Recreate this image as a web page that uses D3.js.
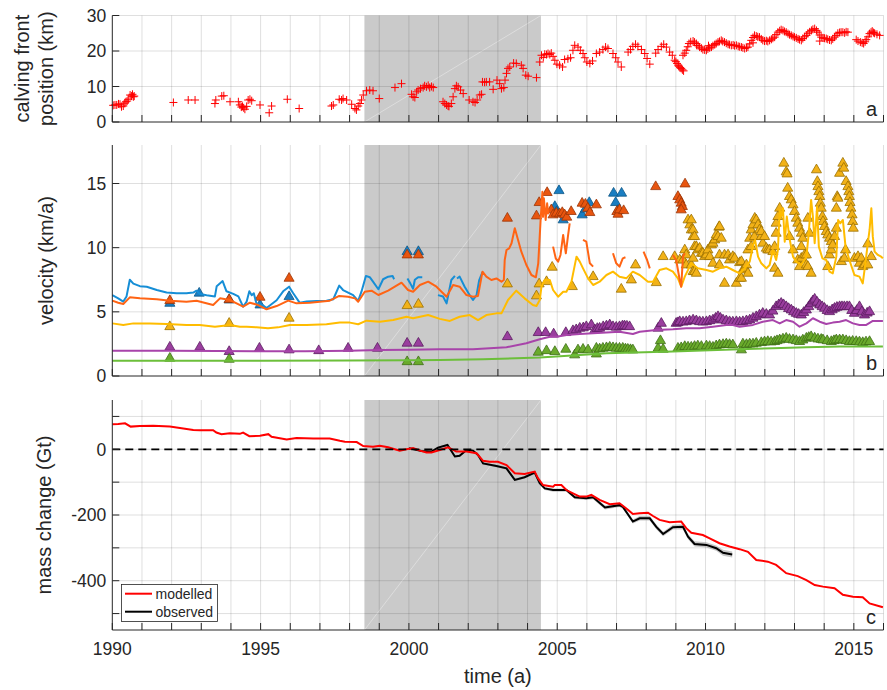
<!DOCTYPE html>
<html><head><meta charset="utf-8">
<script src="https://cdn.jsdelivr.net/npm/d3@7"></script>
<style>body{margin:0;background:#fff}svg{display:block}text{font-family:"Liberation Sans",Arial,Helvetica,sans-serif;fill:#262626}</style>
</head><body>
<svg id="chart" width="887" height="690"></svg>
<script>
// ---------------- DATA ----------------
const xTickYears = d3.range(1990, 2017, 1);
const xTickLabels = [1990, 1995, 2000, 2005, 2010, 2015];
const yTicksA = [0, 10, 20, 30], yLabelsA = [0, 10, 20, 30];
const yTicksB = [0, 5, 10, 15], yLabelsB = [0, 5, 10, 15];
const yTicksC = [-500, -400, -300, -200, -100, 0, 100], yLabelsC = [-400, -200, 0];
const shadedPeriod = [1998.5, 2004.45];

// panel a: calving front position (km)
const frontPos = [
[1990.03,4.7],[1990.09,4.8],[1990.15,4.8],[1990.21,5.1],[1990.26,5.0],[1990.31,4.3],[1990.37,4.5],[1990.42,5.3],[1990.46,5.7],[1990.5,5.9],[1990.54,6.4],[1990.6,7.6],[1990.65,7.3],[1990.68,7.8],[1990.71,7.1],[1990.74,7.3],
[1992.06,5.5],[1992.56,6.2],[1992.79,6.2],
[1993.46,5.2],[1993.49,6.2],[1993.69,7.3],[1993.76,7.4],[1993.97,5.7],
[1994.25,5.7],[1994.3,4.8],[1994.35,4.2],[1994.39,4.4],[1994.43,4.0],[1994.47,3.6],[1994.53,4.4],[1994.58,6.2],[1994.64,6.4],[1994.7,6.0],
[1994.98,4.8],[1995.29,2.6],[1995.37,4.5],[1995.9,6.4],[1996.3,3.8],
[1997.39,4.5],[1997.45,4.8],[1997.65,6.4],[1997.73,6.2],[1997.78,6.6],[1997.9,6.2],[1998.07,5.0],[1998.18,3.8],[1998.23,3.4],[1998.29,4.5],[1998.35,5.2],[1998.4,6.2],[1998.46,7.6],[1998.57,8.8],[1998.68,9.0],[1998.79,8.8],[1999.0,6.6],[1999.53,9.7],[1999.75,10.8],
[2000.09,7.8],[2000.14,7.1],[2000.2,6.9],[2000.26,8.5],[2000.31,9.0],[2000.39,9.4],[2000.48,9.7],[2000.53,10.2],[2000.59,9.9],[2000.65,10.3],[2000.7,9.7],[2000.76,10.0],[2000.82,9.7],
[2001.15,5.7],[2001.21,5.2],[2001.27,4.8],[2001.32,4.5],[2001.35,4.4],[2001.43,5.2],[2001.49,7.1],[2001.55,9.4],[2001.6,10.2],[2001.66,9.9],[2001.74,9.0],[2001.83,8.0],
[2002.03,6.2],[2002.16,5.7],[2002.23,5.5],[2002.3,6.2],[2002.39,7.6],[2002.45,7.8],[2002.48,11.3],[2002.55,11.2],[2002.61,11.3],[2002.72,11.3],[2002.84,9.2],[2002.97,11.8],[2003.06,10.8],[2003.12,9.4],[2003.2,9.7],[2003.24,11.8],[2003.29,13.7],[2003.34,15.1],[2003.4,15.5],[2003.53,16.6],[2003.62,16.5],[2003.79,16.0],[2003.85,15.1],[2003.94,13.2],[2004.02,12.9],[2004.3,12.5],
[2004.41,16.9],[2004.47,18.8],[2004.53,18.2],[2004.58,19.1],[2004.64,19.0],[2004.69,19.3],[2004.75,19.0],[2004.8,19.4],[2004.86,18.5],[2004.92,17.4],[2004.99,16.3],[2005.08,16.0],[2005.18,15.5],[2005.25,17.6],[2005.36,17.8],[2005.45,18.1],
[2005.53,20.2],[2005.59,21.6],[2005.7,21.1],[2005.78,20.2],[2005.87,19.3],[2005.93,18.1],[2006.0,16.9],[2006.1,16.5],[2006.19,17.2],
[2006.32,19.3],[2006.43,19.7],[2006.54,20.4],[2006.63,21.1],[2006.71,20.7],[2006.88,19.3],[2006.97,18.1],[2007.05,16.9],[2007.16,15.5],
[2007.39,19.7],[2007.47,20.4],[2007.55,21.3],[2007.64,21.9],[2007.72,21.3],[2007.84,20.4],[2007.95,19.3],[2008.03,17.9],[2008.12,16.3],
[2008.32,19.4],[2008.4,20.4],[2008.51,21.3],[2008.59,21.9],[2008.68,21.1],[2008.79,19.7],[2008.88,18.8],[2008.96,17.4],[2009.0,17.0],[2009.04,16.5],[2009.08,16.0],[2009.1,15.7],[2009.14,15.3],[2009.18,15.1],[2009.22,14.7],[2009.26,14.4],
[2009.24,18.8],[2009.3,19.4],[2009.35,20.2],[2009.4,21.2],[2009.44,22.1],[2009.5,22.6],[2009.58,22.8],[2009.63,22.5],[2009.69,22.1],[2009.75,21.5],[2009.8,21.1],[2009.86,20.8],[2009.91,20.4],[2009.97,20.3],[2010.03,20.2],[2010.08,20.6],[2010.14,20.9],[2010.2,21.1],[2010.25,21.5],[2010.31,21.8],[2010.36,22.1],[2010.42,22.5],[2010.47,22.7],[2010.53,23.0],[2010.58,22.7],[2010.64,22.5],[2010.7,22.2],[2010.76,21.9],[2010.81,21.8],[2010.87,21.6],[2010.93,21.7],[2010.98,21.5],[2011.04,21.6],[2011.1,21.3],[2011.15,21.2],[2011.21,21.1],[2011.26,20.9],[2011.32,20.7],[2011.38,20.9],[2011.43,21.1],[2011.49,22.0],[2011.54,23.0],[2011.6,23.8],[2011.65,24.4],[2011.71,24.2],[2011.76,24.0],[2011.82,23.9],[2011.88,23.4],[2011.93,23.0],[2011.99,22.8],[2012.05,22.9],[2012.1,22.7],[2012.16,23.0],[2012.22,23.3],[2012.27,23.6],[2012.33,23.9],[2012.38,24.6],[2012.44,25.3],[2012.5,25.7],[2012.55,26.0],[2012.61,25.8],[2012.66,25.5],[2012.72,25.3],[2012.78,24.9],[2012.83,24.6],[2012.89,24.4],[2012.95,24.1],[2013.0,23.9],[2013.06,23.7],[2013.12,23.4],[2013.17,23.2],[2013.23,23.0],[2013.28,23.5],[2013.34,24.0],[2013.4,24.4],[2013.45,25.0],[2013.51,25.4],[2013.57,25.8],[2013.62,26.1],[2013.68,26.3],[2013.74,25.8],[2013.79,25.3],[2013.85,24.5],[2013.9,23.9],[2013.96,23.7],[2014.01,23.6],[2014.07,23.5],[2014.12,23.3],[2014.18,23.1],[2014.24,23.0],[2014.29,23.4],[2014.35,23.9],[2014.4,24.4],[2014.46,25.0],[2014.52,25.2],[2014.57,25.3],[2014.63,25.3],[2014.69,25.1],[2014.74,25.4],[2014.8,25.3],
[2009.7,21.6],[2010.1,21.5],[2011.6,22.3],[2013.85,22.8],
[2015.08,23.2],[2015.14,22.8],[2015.22,22.5],[2015.28,22.3],[2015.33,22.1],[2015.38,22.6],[2015.42,23.2],[2015.48,24.0],[2015.53,24.9],[2015.58,25.3],[2015.62,25.6],[2015.66,25.2],[2015.7,25.0],[2015.78,24.7],[2015.87,24.4]
];

// panel b: modelled velocities (km/a), lines split into segments
const velBlue = [
 [[1990.0,6.3],[1990.2,6.05],[1990.37,5.8],[1990.48,6.2],[1990.59,7.5],[1990.71,7.2],[1990.93,7.0],[1991.16,6.96],[1991.5,6.7],[1991.83,6.5],[1992.17,6.45],[1992.5,6.45],[1992.73,6.5],[1992.84,6.65],[1992.95,6.4],[1993.18,6.3],[1993.46,6.2],[1993.52,7.0],[1993.72,7.4],[1993.85,6.6],[1994.08,6.4],[1994.25,6.2],[1994.41,5.4],[1994.53,5.8],[1994.62,6.6],[1994.7,6.3],[1994.77,6.45],[1994.86,5.65],[1995.09,5.5],[1995.2,5.3],[1995.54,5.9],[1995.76,6.6],[1995.96,6.96],[1996.1,6.45],[1996.32,5.7],[1996.55,5.8],[1996.89,5.85],[1997.22,5.87],[1997.45,5.98],[1997.65,7.04],[1997.78,6.7],[1998.12,6.3],[1998.29,5.85],[1998.4,6.57],[1998.55,7.8],[1998.68,7.7],[1998.79,7.35],[1998.97,6.76],[1999.13,7.54],[1999.3,7.74],[1999.45,7.8],[1999.5,7.54]],
 [[1999.95,7.6],[2000.05,7.2],[2000.14,6.8],[2000.2,7.5],[2000.31,7.7],[2000.45,7.7]],
 [[2000.98,6.3],[2001.15,6.2],[2001.27,5.66],[2001.43,7.48],[2001.55,7.8]],
 [[2001.62,7.6],[2001.71,7.74],[2001.88,6.96],[2002.05,6.3],[2002.16,5.92],[2002.28,6.3],[2002.37,7.48],[2002.48,8.1]]
];
const velOrange = [
 [[1990,5.87],[1990.2,5.71],[1990.37,5.61],[1990.59,6.13],[1990.93,6.05],[1991.5,5.98],[1991.95,5.87],[1992.5,5.79],[1992.84,5.87],[1993.4,5.53],[1993.63,6.05],[1993.97,5.92],[1994.19,5.66],[1994.41,5.4],[1994.64,5.71],[1994.92,5.53],[1995.2,5.2],[1995.54,5.45],[1995.93,5.87],[1996.21,5.66],[1996.66,5.71],[1997.33,5.87],[1997.65,6.24],[1997.95,6.18],[1998.18,6.05],[1998.29,5.79],[1998.51,6.57],[1998.74,6.65],[1998.97,6.31],[1999.3,6.65],[1999.75,7.27],[1999.97,6.7],[2000.14,6.57],[2000.37,7.09],[2000.65,7.35],[2000.93,6.96],[2001.27,6.18],[2001.49,7.09],[2001.71,6.96],[2001.94,6.31],[2002.16,6.18],[2002.33,6.24],[2002.48,8.13],[2002.61,7.74],[2002.78,7.48],[2002.95,7.6],[2003.12,7.35],[2003.2,7.48],[2003.23,9.04],[2003.29,9.82],[2003.38,9.95],[2003.46,10.34],[2003.57,11.51],[2003.68,10.6],[2003.79,9.69],[2003.96,8.65],[2004.13,7.87],[2004.28,7.69],[2004.36,8.78],[2004.44,12.16],[2004.5,14.36],[2004.52,12.4],[2004.55,13.85],[2004.61,12.16],[2004.66,13.46],[2004.7,12.6]],
 [[2004.86,10.08],[2004.95,9.17],[2005.03,8.91],[2005.11,9.43],[2005.2,10.99],[2005.29,9.56],[2005.36,10.86],[2005.42,11.9]],
 [[2005.87,10.6],[2005.98,10.47],[2006.1,8.78],[2006.21,8.52]],
 [[2006.88,9.56],[2006.99,8.78],[2007.1,8.52],[2007.21,9.17],[2007.3,9.25]],
 [[2007.91,9.69],[2008.03,9.04],[2008.12,8.39]],
 [[2008.9,9.43],[2009.01,9.04],[2009.13,7.48],[2009.18,6.96],[2009.24,9.3],[2009.3,9.56]]
];
const velYellow = [
 [[1990,4.1],[1990.37,3.98],[1990.71,4.1],[1991.27,4.1],[1991.83,4.05],[1992.5,3.98],[1992.95,3.98],[1993.46,3.84],[1993.97,3.98],[1994.3,3.84],[1994.53,3.84],[1994.86,3.79],[1995.25,3.72],[1995.59,3.79],[1995.99,3.98],[1996.55,3.98],[1997.22,4.03],[1997.67,4.16],[1998.01,4.16],[1998.29,4.03],[1998.57,4.31],[1999.02,4.23],[1999.47,4.36],[1999.92,4.62],[2000.14,4.5],[2000.65,4.75],[2001.04,4.45],[2001.38,4.29],[2001.71,4.62],[2002.05,4.75],[2002.33,4.36],[2002.61,4.75],[2002.95,4.88],[2003.12,4.88],[2003.34,5.92],[2003.62,6.65],[2003.9,6.05],[2004.18,5.53],[2004.3,5.46],[2004.41,5.92],[2004.47,6.96],[2004.58,7.48],[2004.75,7.48],[2004.86,6.7],[2005.03,6.18],[2005.2,6.57],[2005.31,6.57],[2005.48,7.35],[2005.65,9.3],[2005.76,8.91],[2005.87,8.39],[2006.04,7.61],[2006.21,7.09],[2006.43,7.35],[2006.66,7.87],[2006.88,8.13],[2007.1,7.74],[2007.33,7.61],[2007.55,8.13],[2007.78,7.87],[2008.06,7.35],[2008.23,7.35],[2008.45,8.26],[2008.68,8.39],[2008.9,8.13],[2009.07,7.61],[2009.18,6.96],[2009.3,7.74],[2009.52,8.78],[2009.74,8.39],[2010.03,8.26],[2010.25,8.13],[2010.47,8.39],[2010.7,8.52],[2010.92,8.26],[2011.15,8.0],[2011.32,8.39],[2011.49,8.91],[2011.6,10.2],[2011.67,10.6],[2011.77,9.3],[2011.88,8.78],[2012.05,8.39],[2012.16,8.65],[2012.27,9.82],[2012.38,9.04],[2012.44,9.82],[2012.5,12.94],[2012.55,12.42],[2012.61,13.07],[2012.67,10.47],[2012.74,12.42],[2012.83,10.73],[2012.95,9.3],[2013.06,8.91],[2013.23,8.65],[2013.4,9.3],[2013.48,11.12],[2013.56,13.72],[2013.62,12.42],[2013.68,10.34],[2013.76,13.2],[2013.82,10.08],[2013.94,9.17],[2014.07,9.04],[2014.18,8.13],[2014.29,8.0],[2014.41,9.3],[2014.47,12.16],[2014.54,11.9],[2014.63,12.16],[2014.72,10.08],[2014.85,9.04],[2015.02,7.87],[2015.19,7.74],[2015.3,7.22],[2015.39,8.78],[2015.47,10.34],[2015.53,11.38],[2015.59,13.07],[2015.64,10.86],[2015.7,9.69],[2015.81,9.43],[2015.92,9.3],[2015.98,9.17]]
];
const velPurple = [
 [[1990,1.97],[1992,1.97],[1993.5,1.95],[1995,1.92],[1996.5,1.93],[1998,1.97],[1999,2.02],[2000,2.05],[2001.04,2.08],[2002.16,2.08],[2003.29,2.24],[2003.96,2.55],[2004.41,2.86],[2004.75,3.06],[2004.98,3.06],[2005.31,3.2],[2005.76,3.27],[2006.21,3.33],[2006.66,3.38],[2007.1,3.45],[2007.55,3.27],[2007.78,3.45],[2008.34,3.59],[2008.9,3.64],[2009.35,3.72],[2009.8,3.72],[2010.25,3.84],[2010.7,3.98],[2010.92,3.98],[2011.15,3.84],[2011.6,3.98],[2011.93,4.23],[2012.27,4.36],[2012.5,4.1],[2012.72,4.36],[2012.95,4.23],[2013.17,3.84],[2013.4,4.1],[2013.62,4.5],[2013.85,4.23],[2014.07,4.05],[2014.29,4.16],[2014.52,4.23],[2014.74,4.36],[2014.97,4.1],[2015.19,3.98],[2015.42,3.98],[2015.64,4.29],[2015.98,4.29]]
];
const velGreen = [
 [[1990,1.19],[1995,1.19],[1998,1.2],[2000,1.22],[2001.04,1.25],[2002.5,1.3],[2004.41,1.45],[2005.5,1.6],[2006.66,1.77],[2008.9,1.9],[2011.15,2.08],[2012.27,2.16],[2013.4,2.24],[2014.52,2.29],[2015.98,2.29]]
];

// panel b: observed velocities (triangles)
const obsBlue = [[1991.94,5.66],[1992.93,6.45],[1993.94,5.92],[1994.98,5.53],[1995.96,6.18],[1999.94,9.69],[2000.32,9.69],[2004.92,13.2],[2004.98,12.8],[2005.06,14.44],[2005.2,12.16],[2005.84,12.55],[2005.95,13.0],[2006.08,13.51],[2006.9,14.24],[2006.97,13.51],[2007.05,12.9],[2007.17,14.24]];
const obsOrange = [[1991.94,5.87],[1993.94,5.95],[1994.98,6.13],[1995.96,7.61],[1999.94,9.43],[2000.32,9.43],[2003.32,12.29],[2004.3,12.47],[2004.39,13.51],[2004.66,14.29],[2004.8,12.94],[2004.86,12.55],[2004.97,12.68],[2005.08,12.63],[2005.17,12.73],[2005.25,12.55],[2005.32,12.37],[2005.47,12.81],[2005.84,13.46],[2005.95,13.38],[2006.03,13.07],[2006.1,12.73],[2006.32,13.33],[2007.01,12.81],[2007.05,12.6],[2007.1,12.94],[2007.24,12.88],[2008.32,14.75],[2009.07,13.98],[2009.13,13.72],[2009.18,13.46],[2009.22,13.2],[2009.18,12.94],[2009.31,14.96]];
const obsYellow = [[1991.94,3.84],[1993.94,4.1],[1995.96,4.5],[1999.94,5.48],[2000.32,5.59],[2003.32,7.17],[2004.3,6.24],[2004.39,7.17],[2004.64,7.35],[2004.83,8.47],[2005.51,6.96],[2006.21,7.74],[2007.16,6.76],[2007.5,7.48],[2007.64,8.65],[2008.34,7.27],[2008.57,9.3],[2008.96,9.3],
[2009.13,9.04],[2009.24,9.04],[2009.3,9.82],[2009.35,9.43],[2009.35,8.65],[2009.41,12.16],[2009.47,11.77],[2009.52,11.38],[2009.52,12.16],[2009.52,8.65],[2009.58,10.86],[2009.58,11.38],[2009.58,9.17],[2009.58,8.13],[2009.63,10.86],[2009.63,10.08],[2009.63,8.13],[2009.69,10.08],[2009.69,8.0],[2009.74,9.82],[2009.8,9.95],[2009.86,9.56],[2009.91,9.56],[2009.97,9.3],[2010.03,9.43],[2010.08,9.82],[2010.14,9.3],[2010.2,10.21],[2010.25,8.78],[2010.25,10.34],[2010.31,10.6],[2010.36,10.99],[2010.42,10.86],[2010.45,11.59],[2010.47,11.64],[2010.47,8.65],[2010.47,9.43],[2010.53,10.73],[2010.64,9.43],[2010.64,7.22],[2010.76,9.43],[2010.81,9.04],[2010.92,9.3],[2010.98,9.17],[2011.04,7.22],[2011.15,7.61],[2011.15,8.83],[2011.21,8.91],[2011.21,7.61],[2011.26,8.26],[2011.32,8.39],[2011.38,8.65],[2011.43,9.82],[2011.43,8.0],[2011.49,10.73],[2011.54,11.38],[2011.54,10.08],[2011.6,11.77],[2011.65,10.86],[2011.66,12.29],[2011.71,12.16],[2011.77,11.77],[2011.82,11.38],[2011.88,10.86],[2011.88,11.25],[2011.93,10.34],[2011.99,10.86],[2012.05,9.95],[2012.1,9.82],[2012.16,9.82],[2012.27,9.69],[2012.33,8.39],[2012.33,10.08],[2012.38,11.12],[2012.38,11.9],[2012.44,12.42],[2012.44,8.0],[2012.5,13.07],[2012.64,16.58],[2012.72,15.9],[2012.75,15.74],[2012.77,14.63],[2012.83,13.98],[2012.83,10.86],[2012.89,13.72],[2012.95,13.33],[2012.95,9.82],[2013.0,12.81],[2013.06,12.29],[2013.11,11.9],[2013.11,9.04],[2013.17,11.51],[2013.17,8.52],[2013.23,11.12],[2013.23,10.08],[2013.23,9.17],[2013.28,10.73],[2013.34,9.43],[2013.4,8.65],[2013.4,9.43],[2013.45,12.29],[2013.45,8.52],[2013.51,11.12],[2013.56,8.0],[2013.74,16.06],[2013.77,15.15],[2013.79,14.75],[2013.82,14.36],[2013.85,13.98],[2013.87,13.46],[2013.9,13.07],[2013.94,12.42],[2013.96,12.03],[2014.01,11.64],[2014.07,11.25],[2014.12,10.99],[2014.12,8.52],[2014.18,10.73],[2014.18,9.43],[2014.24,10.47],[2014.24,9.82],[2014.29,10.21],[2014.35,10.86],[2014.41,11.51],[2014.41,13.07],[2014.44,13.98],[2014.46,13.85],[2014.52,15.79],[2014.58,8.91],[2014.63,16.58],[2014.66,16.19],[2014.68,9.17],[2014.72,9.82],[2014.74,15.15],[2014.8,14.75],[2014.83,14.36],[2014.85,13.98],[2014.87,13.51],[2014.9,13.07],[2014.94,12.55],[2014.96,12.03],[2014.98,11.51],[2015.02,9.17],[2015.14,9.3],[2015.19,8.78],[2015.25,9.17],[2015.3,8.52],[2015.36,8.65],[2015.47,10.29],[2015.47,8.65],[2015.59,9.3]];
const obsPurple = [[1991.94,2.24],[1992.95,2.24],[1993.94,1.9],[1994.96,2.16],[1995.96,2.03],[1996.96,1.97],[1997.95,2.16],[1998.94,2.16],[1999.94,2.55],[2000.32,2.55],[2003.32,3.06],[2004.36,3.38],[2004.61,3.38],[2004.88,3.27],[2005.29,3.38],[2005.53,3.53],[2005.64,3.6],[2005.76,3.72],[2005.88,3.75],[2005.98,3.84],[2006.15,3.98],[2006.27,3.59],[2006.35,3.7],[2006.43,3.72],[2006.55,3.84],[2006.66,3.9],[2006.77,3.98],[2006.88,3.84],[2006.99,3.8],[2007.1,3.84],[2007.2,3.9],[2007.27,3.9],[2007.35,3.88],[2007.44,3.84],[2008.4,3.72],[2008.51,4.1],[2009.01,4.1],[2009.07,4.15],[2009.13,4.23],[2009.24,4.2],[2009.35,4.23],[2009.46,4.3],[2009.58,4.36],[2009.69,4.3],[2009.8,4.23],[2009.91,4.2],[2010.03,4.23],[2010.14,4.3],[2010.25,4.36],[2010.34,4.5],[2010.42,4.62],[2010.5,4.5],[2010.59,4.36],[2010.7,4.3],[2010.81,4.23],[2010.92,4.2],[2011.04,4.23],[2011.15,4.2],[2011.26,4.23],[2011.38,4.3],[2011.49,4.36],[2011.6,4.5],[2011.71,4.62],[2011.82,4.75],[2011.93,4.88],[2012.05,4.8],[2012.16,4.75],[2012.27,5.05],[2012.38,5.4],[2012.47,5.55],[2012.55,5.66],[2012.63,5.55],[2012.72,5.4],[2012.8,5.25],[2012.89,5.14],[2012.97,5.0],[2013.06,4.88],[2013.14,4.8],[2013.23,4.75],[2013.31,4.95],[2013.4,5.14],[2013.48,5.4],[2013.56,5.66],[2013.62,5.85],[2013.68,5.98],[2013.76,5.75],[2013.85,5.53],[2013.93,5.4],[2014.01,5.27],[2014.1,5.1],[2014.18,5.01],[2014.27,5.15],[2014.35,5.27],[2014.43,5.35],[2014.52,5.4],[2014.6,5.4],[2014.68,5.4],[2014.77,5.4],[2014.85,5.4],[2014.93,5.1],[2015.02,4.88],[2015.1,5.1],[2015.19,5.4],[2015.27,5.0],[2015.36,4.75],[2015.45,4.9],[2015.53,5.01]];
const obsGreen = [[1991.94,1.38],[1993.94,1.3],[1999.94,1.11],[2000.32,1.11],[2004.36,1.85],[2004.64,1.97],[2004.92,1.9],[2005.29,2.08],[2005.59,1.64],[2005.7,2.03],[2005.87,2.08],[2006.04,2.03],[2006.32,1.71],[2006.32,2.16],[2006.43,2.1],[2006.54,2.16],[2006.66,2.2],[2006.77,2.24],[2006.88,2.2],[2006.99,2.16],[2007.1,2.16],[2007.21,2.16],[2007.3,2.1],[2007.38,2.08],[2007.47,2.05],[2007.55,2.03],[2008.4,2.16],[2008.48,2.75],[2008.57,2.08],[2009.07,2.16],[2009.18,2.2],[2009.3,2.29],[2009.41,2.25],[2009.52,2.24],[2009.63,2.3],[2009.74,2.34],[2009.86,2.3],[2010.03,2.34],[2010.14,2.3],[2010.25,2.24],[2010.36,2.35],[2010.47,2.42],[2010.59,2.45],[2010.7,2.49],[2010.81,2.45],[2010.92,2.42],[2011.21,2.03],[2011.26,2.49],[2011.38,2.45],[2011.49,2.49],[2011.6,2.49],[2011.71,2.55],[2011.88,2.6],[2011.99,2.65],[2012.1,2.68],[2012.21,2.65],[2012.33,2.68],[2012.41,2.75],[2012.5,2.81],[2012.61,2.88],[2012.72,2.94],[2012.83,2.85],[2012.95,2.81],[2013.06,2.75],[2013.17,2.68],[2013.28,2.8],[2013.4,2.94],[2013.48,3.0],[2013.56,3.06],[2013.68,2.95],[2013.79,2.88],[2013.9,2.85],[2013.96,2.81],[2014.1,2.75],[2014.24,2.68],[2014.33,2.75],[2014.41,2.81],[2014.52,2.81],[2014.63,2.81],[2014.74,2.75],[2014.85,2.68],[2014.96,2.7],[2015.08,2.68],[2015.19,2.65],[2015.3,2.6],[2015.41,2.65],[2015.53,2.68]];

// panel c: mass change (Gt)
const massModelled = [[1990,76],[1990.2,77],[1990.43,79],[1990.62,69],[1990.93,71],[1991.38,72],[1991.94,69],[1992.28,65],[1992.73,59],[1992.95,58],[1993.4,58],[1993.51,51],[1993.68,46],[1993.96,49],[1994.3,47],[1994.41,51],[1994.62,40],[1994.98,41],[1995.26,46],[1995.37,38],[1995.88,30],[1996.21,34],[1996.77,33],[1997.33,33],[1997.67,26],[1997.84,23],[1998.24,22],[1998.46,10],[1998.79,8],[1999.02,11],[1999.3,6],[1999.69,-4],[1999.92,0],[2000.14,4],[2000.37,-4],[2000.59,-10],[2000.76,-10],[2001.04,-2],[2001.32,6],[2001.6,-7],[2001.94,-7],[2002.28,-12],[2002.5,-35],[2002.72,-38],[2003.0,-38],[2003.29,-48],[2003.57,-73],[2003.9,-75],[2004.24,-68],[2004.35,-88],[2004.52,-109],[2004.86,-114],[2004.92,-109],[2005.14,-109],[2005.31,-124],[2005.53,-134],[2005.76,-144],[2005.98,-144],[2006.15,-139],[2006.43,-154],[2006.77,-167],[2007.1,-164],[2007.33,-180],[2007.55,-197],[2007.78,-195],[2008.06,-193],[2008.23,-203],[2008.45,-215],[2008.79,-222],[2009.18,-220],[2009.35,-240],[2009.52,-254],[2009.91,-261],[2010.14,-271],[2010.47,-286],[2010.81,-296],[2011.15,-304],[2011.43,-312],[2011.71,-337],[2012.1,-342],[2012.38,-352],[2012.72,-377],[2013.11,-386],[2013.4,-398],[2013.68,-413],[2013.96,-418],[2014.35,-423],[2014.63,-443],[2014.97,-449],[2015.3,-450],[2015.53,-469],[2015.98,-481]];
// [year, value, uncertainty]
const massObserved = [[2000.0,0,2],[2000.03,3,2],[2000.42,-5,2],[2000.76,-7,2],[2000.98,5,3],[2001.3,13,3],[2001.55,-22,3],[2001.71,-20,3],[2001.94,-2,3],[2002.16,-4,3],[2002.33,-17,3],[2002.5,-43,3],[2002.95,-51,4],[2003.29,-58,4],[2003.57,-93,4],[2003.9,-85,4],[2004.24,-71,4],[2004.41,-103,5],[2004.58,-119,5],[2004.86,-124,5],[2005.31,-124,5],[2005.59,-146,5],[2005.98,-149,5],[2006.21,-146,6],[2006.61,-177,6],[2007.1,-170,6],[2007.21,-175,6],[2007.55,-220,6],[2007.78,-210,7],[2008.12,-210,7],[2008.34,-236,7],[2008.57,-258,7],[2008.9,-237,7],[2009.24,-236,8],[2009.41,-266,8],[2009.63,-288,8],[2010.03,-291,8],[2010.36,-301,8],[2010.59,-315,9],[2010.9,-320,9]];
const legendLabels = ["modelled", "observed"];

// ---------------- DRAWING ----------------
const svg = d3.select("#chart");
const X0 = 112.3, X1 = 883.5;
const x = d3.scaleLinear().domain([1990, 2016]).range([X0, X1]);
const AX = "#262626";

function makePanel(top, bottom, ydom, yticks, ylabels, letter) {
  const y = d3.scaleLinear().domain(ydom).range([bottom, top]);
  const g = svg.append("g");
  const bg = g.append("g"), data = g.append("g"), fg = g.append("g");
  bg.append("rect").attr("x", x(shadedPeriod[0])).attr("y", top)
    .attr("width", x(shadedPeriod[1]) - x(shadedPeriod[0])).attr("height", bottom - top)
    .attr("fill", "#cacaca");
  bg.append("line").attr("x1", x(shadedPeriod[0])).attr("y1", bottom)
    .attr("x2", x(shadedPeriod[1])).attr("y2", top)
    .attr("stroke", "#fff").attr("stroke-opacity", 0.45).attr("stroke-width", 0.8);
  bg.selectAll(".vg").data(xTickYears.filter(d => d > 1990)).join("line")
    .attr("x1", d => x(d)).attr("x2", d => x(d)).attr("y1", top).attr("y2", bottom)
    .attr("stroke", AX).attr("stroke-opacity", 0.15).attr("stroke-width", 1);
  bg.selectAll(".hg").data(yticks.filter(d => d !== ydom[0])).join("line")
    .attr("x1", X0).attr("x2", X1).attr("y1", d => y(d)).attr("y2", d => y(d))
    .attr("stroke", AX).attr("stroke-opacity", 0.15).attr("stroke-width", 1);
  fg.append("line").attr("x1", X0).attr("x2", X0).attr("y1", top).attr("y2", bottom).attr("stroke", AX);
  fg.append("line").attr("x1", X0).attr("x2", X1).attr("y1", bottom).attr("y2", bottom).attr("stroke", AX);
  fg.selectAll(".xt").data(xTickYears).join("line")
    .attr("x1", d => x(d)).attr("x2", d => x(d)).attr("y1", bottom).attr("y2", bottom - 7)
    .attr("stroke", AX);
  fg.selectAll(".yt").data(yticks).join("line")
    .attr("x1", X0).attr("x2", X0 + 7).attr("y1", d => y(d)).attr("y2", d => y(d))
    .attr("stroke", AX);
  fg.selectAll(".yl").data(ylabels).join("text")
    .attr("x", X0 - 6).attr("y", d => y(d)).attr("dy", "0.36em")
    .attr("text-anchor", "end").attr("font-size", 17.5).text(d => d);
  fg.append("text").attr("x", 866).attr("y", bottom - 6).attr("font-size", 20).text(letter);
  return {y, data, fg, bottom};
}

// ----- panel a
const pa = makePanel(15.5, 122, [0, 30], yTicksA, yLabelsA, "a");
pa.data.selectAll("path").data(frontPos).join("path")
  .attr("transform", d => `translate(${x(d[0])},${pa.y(d[1])})`)
  .attr("d", "M-4,0H4M0,-4V4").attr("stroke", "#ff0000").attr("stroke-width", 1).attr("fill", "none");

// ----- panel b
const pb = makePanel(145, 376, [0, 18], yTicksB, yLabelsB, "b");
const tri = d3.symbol().type(d3.symbolTriangle).size(44)();
const obsSets = [
  [obsBlue, "#1a7ec2", "#0b5585"],
  [obsOrange, "#e8550f", "#9a3508"],
  [obsYellow, "#f2b218", "#9a7000"],
  [obsPurple, "#9a3e9e", "#5a1a60"],
  [obsGreen, "#6aaa2c", "#3d6e15"]
];
obsSets.forEach(([pts, fill, edge]) => {
  pb.data.append("g").selectAll("path").data(pts).join("path")
    .attr("transform", d => `translate(${x(d[0])},${pb.y(d[1])})`)
    .attr("d", tri).attr("fill", fill).attr("stroke", edge).attr("stroke-width", 0.8);
});
const lineB = d3.line().x(d => x(d[0])).y(d => pb.y(d[1]));
const lineSets = [
  [velGreen, "#6cbf3a"],
  [velPurple, "#a844aa"],
  [velYellow, "#ffbc00"],
  [velBlue, "#168ed6"],
  [velOrange, "#ff6414"]
];
lineSets.forEach(([segs, col]) => {
  pb.data.append("g").selectAll("path").data(segs).join("path")
    .attr("d", lineB).attr("fill", "none").attr("stroke", col).attr("stroke-width", 2)
    .attr("stroke-linejoin", "round");
});

// ----- panel c
const pc = makePanel(400, 630, [-550, 150], yTicksC, yLabelsC, "c");
const area = d3.area().x(d => x(d[0])).y0(d => pc.y(d[1] - d[2])).y1(d => pc.y(d[1] + d[2]));
pc.data.append("path").datum(massObserved).attr("d", area).attr("fill", "#999").attr("fill-opacity", 0.55);
const lineC = d3.line().x(d => x(d[0])).y(d => pc.y(d[1]));
pc.data.append("path").datum(massObserved).attr("d", lineC).attr("fill", "none")
  .attr("stroke", "#000").attr("stroke-width", 2);
pc.data.append("path").datum(massModelled).attr("d", lineC).attr("fill", "none")
  .attr("stroke", "#ff0000").attr("stroke-width", 2);
pc.data.append("line").attr("x1", X0).attr("x2", X1).attr("y1", pc.y(0)).attr("y2", pc.y(0))
  .attr("stroke", "#000").attr("stroke-width", 1.8).attr("stroke-dasharray", "8,5");
// x tick labels (bottom panel only)
pc.fg.selectAll(".xl").data(xTickLabels).join("text")
  .attr("x", d => x(d)).attr("y", 655).attr("text-anchor", "middle")
  .attr("font-size", 17.5).text(d => d);

// legend
const lg = svg.append("g");
lg.append("rect").attr("x", 121.5).attr("y", 584.5).attr("width", 96).attr("height", 37)
  .attr("fill", "#fff").attr("stroke", AX).attr("stroke-width", 0.8);
[["#ff0000", 593.7], ["#000", 611.7]].forEach(([c, yy], i) => {
  lg.append("line").attr("x1", 125).attr("x2", 152).attr("y1", yy).attr("y2", yy)
    .attr("stroke", c).attr("stroke-width", 2);
  lg.append("text").attr("x", 155.5).attr("y", yy + 5).attr("font-size", 14).text(legendLabels[i]);
});

// axis labels
svg.append("text").attr("x", (X0 + X1) / 2).attr("y", 683).attr("text-anchor", "middle")
  .attr("font-size", 20).text("time (a)");
function ylab(lines, cy, xs) {
  lines.forEach((t, i) => {
    svg.append("text").attr("transform", `translate(${xs[i]},${cy}) rotate(-90)`)
      .attr("text-anchor", "middle").attr("font-size", 20).text(t);
  });
}
ylab(["calving front", "position (km)"], 68.7, [29, 53]);
ylab(["velocity (km/a)"], 260.5, [53]);
ylab(["mass change (Gt)"], 515, [51]);
</script>
</body></html>
